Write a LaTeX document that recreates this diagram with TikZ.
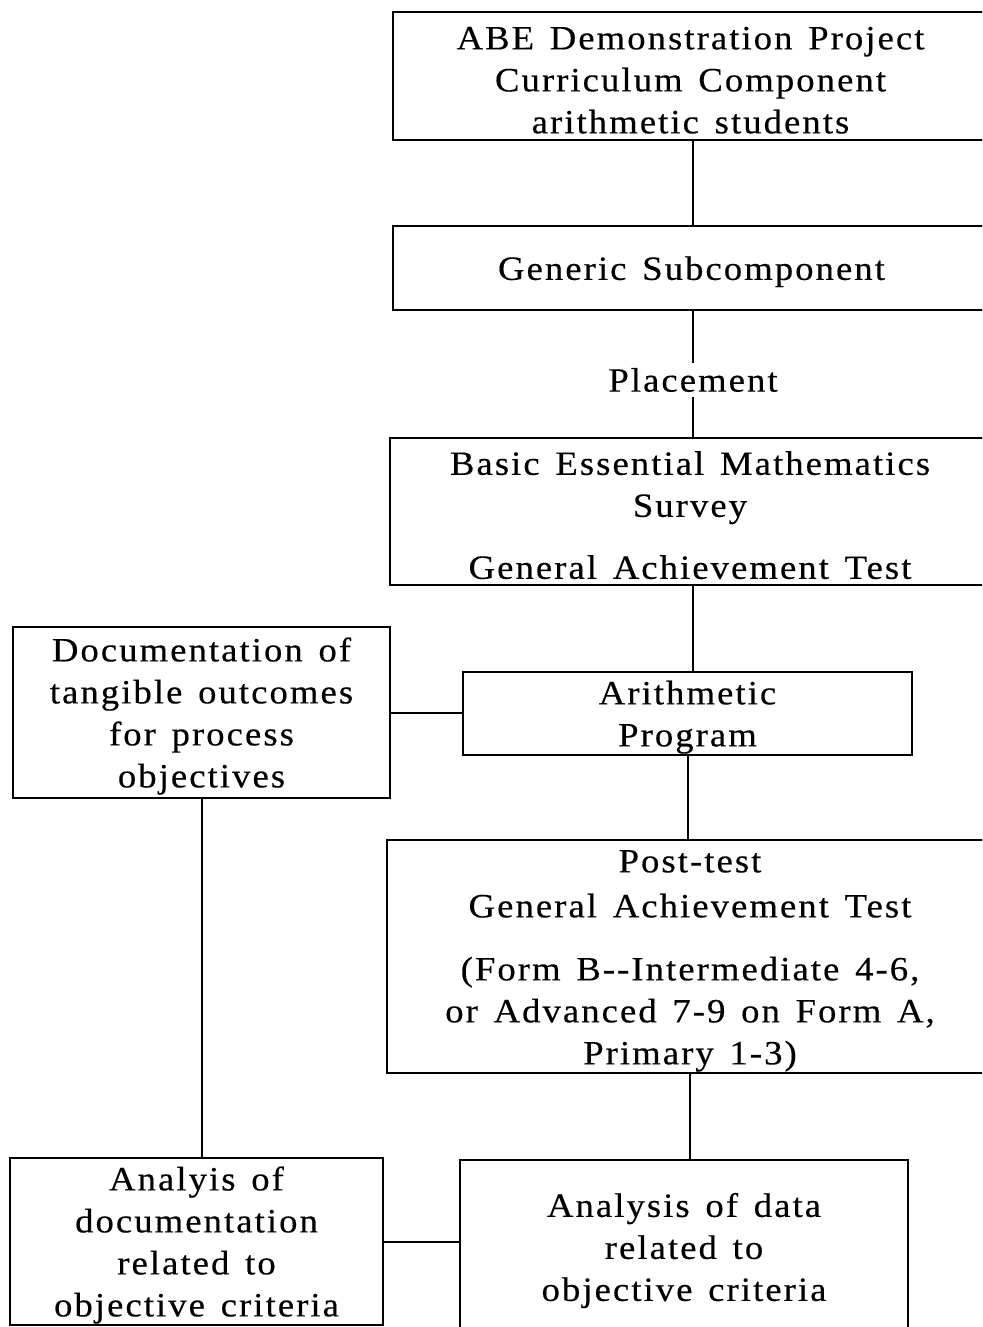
\documentclass[tikz,border=0pt]{standalone}
\usepackage{fontspec}
\setmainfont{Liberation Serif}[LetterSpace=6, WordSpace=1.4, FakeStretch=1.08, FakeBold=0.4]
\usetikzlibrary{calc}

\begin{document}
\begin{tikzpicture}[x=1pt, y=-1pt,
  txt/.style={font=\fontsize{34}{42}\selectfont, align=center},
  box/.style={txt, draw, line width=2.6pt, inner sep=0pt},
  link/.style={line width=2pt}]
\useasboundingbox (0,0) rectangle (982,1327);
\clip (0,0) rectangle (982,1327);

% right-hand column
\node[box, minimum width=595, minimum height=128] (head) at (690.5,76)
  {\rule{0pt}{31pt}ABE Demonstration Project\\Curriculum Component\\arithmetic students};
\node[box, minimum width=597, minimum height=84] (generic) at (691.5,268)
  {\rule{0pt}{31pt}Generic Subcomponent};
\node[txt, inner sep=5pt] (place) at (693,380) {Placement};
\node[box, minimum width=600, minimum height=147] (survey) at (690,511.5)
  {\rule{0pt}{31pt}Basic Essential Mathematics\\Survey\\[20pt]General Achievement Test};
\node[box, minimum width=449, minimum height=83] (arith) at (687.5,713.5)
  {\rule{0pt}{31pt}Arithmetic\\Program};
\node[box, minimum width=606, minimum height=233] (post) at (690,956.5)
  {\rule{0pt}{31pt}Post-test\\[3pt]General Achievement Test\\[21pt](Form B{-}{-}Intermediate 4-6,\\or Advanced 7-9 on Form A,\\Primary 1-3)};
\node[box, minimum width=448, minimum height=174] (data) at (684,1247)
  {\rule{0pt}{31pt}Analysis of data\\related to\\objective criteria};

% left-hand column
\node[box, minimum width=377, minimum height=171] (docu) at (201.5,712.5)
  {\rule{0pt}{31pt}Documentation of\\tangible outcomes\\for process\\objectives};
\node[box, minimum width=373, minimum height=167] (anadoc) at (196.5,1241.5)
  {\rule{0pt}{31pt}Analyis of\\documentation\\related to\\objective criteria};

% connectors
\draw[link] (head.south -| place) -- (generic.north -| place);
\draw[link] (generic.south -| place) -- (place.north);
\draw[link] (place.south) -- (survey.north -| place);
\draw[link] (survey.south -| place) -- (arith.north -| place);
\draw[link] (arith.south) -- (arith.south |- post.north);
\draw[link] (post.south) -- (post.south |- data.north);
\draw[link] (docu.east) -- (docu.east -| arith.west);
\draw[link] (docu.south) -- (docu.south |- anadoc.north);
\draw[link] (anadoc.east) -- (anadoc.east -| data.west);
\end{tikzpicture}
\end{document}
